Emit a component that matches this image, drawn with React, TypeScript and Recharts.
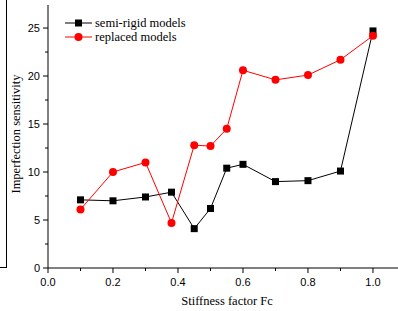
import { CartesianGrid, Label, Legend, Line, LineChart, XAxis, YAxis } from 'recharts'

// stiffness factor Fc for each model
const fcValues = [0.1, 0.2, 0.3, 0.38, 0.45, 0.5, 0.55, 0.6, 0.7, 0.8, 0.9, 1.0]
// imperfection sensitivity
const semiRigid = [7.1, 7.0, 7.4, 7.9, 4.1, 6.2, 10.4, 10.8, 9.0, 9.1, 10.1, 24.7]
const replaced = [6.1, 10.0, 11.0, 4.7, 12.8, 12.7, 14.5, 20.6, 19.6, 20.1, 21.7, 24.2]

const xTicks = [0, 0.1, 0.2, 0.3, 0.4, 0.5, 0.6, 0.7, 0.8, 0.9, 1.0]
const yTicks = [0, 2.5, 5, 7.5, 10, 12.5, 15, 17.5, 20, 22.5, 25]

const seriesNames = ['semi-rigid models', 'replaced models']

const data = fcValues.map((fc, i) => ({
  fc,
  semi: semiRigid[i],
  replaced: replaced[i],
}))

const sans = "'Liberation Sans', Arial, sans-serif"
const serif = "'Liberation Serif', 'Times New Roman', serif"

function XTick({ x, y, payload }: any) {
  const v = payload.value as number
  const major = Math.round(v * 10) % 2 === 0
  return (
    <g>
      <line x1={x} x2={x} y1={y} y2={y + (major ? 5 : 3)} stroke='#000' />
      {major && (
        <text x={x} y={y + 18} textAnchor='middle' fontSize={11} fontFamily={sans} fill='#000'>
          {v.toFixed(1)}
        </text>
      )}
    </g>
  )
}

function YTick({ x, y, payload }: any) {
  const v = payload.value as number
  const major = v % 5 === 0
  return (
    <g>
      <line x1={x - (major ? 5 : 3)} x2={x} y1={y} y2={y} stroke='#000' />
      {major && (
        <text x={x - 8} y={y + 4} textAnchor='end' fontSize={11} fontFamily={sans} fill='#000'>
          {v}
        </text>
      )}
    </g>
  )
}

function SquareDot({ cx, cy, index }: any) {
  return <rect key={`sq-${index}`} x={cx - 3.5} y={cy - 3.5} width={7} height={7} fill='#000' />
}

function CircleDot({ cx, cy, index }: any) {
  return <circle key={`ci-${index}`} cx={cx} cy={cy} r={4} fill='#ff0000' />
}

function LegendBox() {
  const row = (name: string, color: string, square: boolean) => (
    <div key={name} style={{ display: 'flex', alignItems: 'center', height: 14.6 }}>
      <svg width={28} height={10} style={{ display: 'block' }}>
        <line x1={0} x2={27} y1={5} y2={5} stroke={color} />
        {square ? (
          <rect x={10} y={1.5} width={7} height={7} fill={color} />
        ) : (
          <circle cx={13.5} cy={5} r={4} fill={color} />
        )}
      </svg>
      <span style={{ marginLeft: 2, whiteSpace: 'nowrap' }}>{name}</span>
    </div>
  )
  return (
    <div style={{ fontFamily: serif, fontSize: 12.5, color: '#000', lineHeight: '14.6px' }}>
      {row(seriesNames[0], '#000', true)}
      {row(seriesNames[1], '#ff0000', false)}
    </div>
  )
}

export default function App() {
  return (
    <div style={{ position: 'absolute', left: 0, top: 0, width: 398, height: 311, overflow: 'hidden', background: '#fff' }}>
      {/* edge of the neighbouring panel */}
      <div
        style={{
          position: 'absolute',
          left: 0,
          top: 0,
          width: 6,
          height: 267,
          borderRight: '1px solid #000',
          borderBottom: '1px solid #000',
        }}
      />
      <LineChart width={398} height={311} data={data} margin={{ top: 5, right: 0, bottom: 13, left: 8 }}>
        <CartesianGrid stroke='none' />
        <XAxis
          xAxisId='top'
          orientation='top'
          dataKey='fc'
          type='number'
          domain={[0, 1.077]}
          height={0}
          tick={false}
          tickLine={false}
          axisLine={{ stroke: '#000' }}
        />
        <XAxis
          dataKey='fc'
          type='number'
          domain={[0, 1.077]}
          allowDataOverflow
          ticks={xTicks}
          interval={0}
          tickSize={0}
          tickMargin={0}
          tickLine={false}
          axisLine={{ stroke: '#000' }}
          tick={XTick}
          height={30}
        >
          <Label
            content={() => (
              <text x={227} y={305} textAnchor='middle' fontSize={12.5} fontFamily={serif} fill='#000'>
                Stiffness factor Fc
              </text>
            )}
          />
        </XAxis>
        <YAxis
          type='number'
          domain={[0, 27.4]}
          allowDataOverflow
          ticks={yTicks}
          interval={0}
          tickSize={0}
          tickMargin={0}
          tickLine={false}
          axisLine={{ stroke: '#000' }}
          tick={YTick}
          width={40}
        >
          <Label
            content={() => (
              <text
                x={20}
                y={134}
                transform='rotate(-90, 20, 134)'
                textAnchor='middle'
                fontSize={12.5}
                fontFamily={serif}
                fill='#000'
              >
                Imperfection sensitivity
              </text>
            )}
          />
        </YAxis>
        <Legend
          layout='vertical'
          align='center'
          verticalAlign='middle'
          content={() => <LegendBox />}
          wrapperStyle={{ left: 65, top: 15.5, width: 'auto', height: 'auto' }}
        />
        <Line
          dataKey='semi'
          name={seriesNames[0]}
          stroke='#000'
          strokeWidth={1}
          dot={SquareDot}
          activeDot={false}
          isAnimationActive={false}
        />
        <Line
          dataKey='replaced'
          name={seriesNames[1]}
          stroke='#ff0000'
          strokeWidth={1}
          dot={CircleDot}
          activeDot={false}
          isAnimationActive={false}
        />
      </LineChart>
    </div>
  )
}
